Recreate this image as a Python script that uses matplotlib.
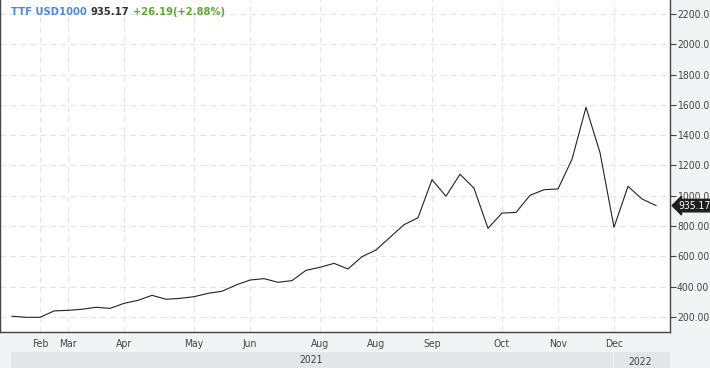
import numpy as np
import matplotlib
matplotlib.use("Agg")
from matplotlib import pyplot as plt
from matplotlib.patches import Rectangle
import matplotlib.transforms as mtransforms

# weekly closes
prices = [205, 198, 198, 240, 244, 251, 264, 257, 290, 310,
          343, 317, 323, 334, 356, 370, 411, 444, 453, 429,
          440, 508, 528, 554, 517, 598, 642, 726, 809, 855,
          1106, 997, 1142, 1050, 785, 886, 890, 1003, 1040, 1045,
          1241, 1584, 1285, 792, 1062, 979, 935.17]
month_idx = [2, 4, 8, 13, 17, 22, 26, 30, 35, 39, 43]
month_labels = ["Feb", "Mar", "Apr", "May", "Jun", "Aug", "Aug", "Sep", "Oct", "Nov", "Dec"]
y_ticks = [200, 400, 600, 800, 1000, 1200, 1400, 1600, 1800, 2000, 2200]
last_price = 935.17
change = 26.19
change_pct = 2.88

W, H = 710, 368
fig = plt.figure(figsize=(W / 100, H / 100), dpi=100, facecolor="#f2f3f5")
ax = fig.add_axes([0, 36 / H, 670 / W, 332 / H])
ax.set_facecolor("white")

x = np.arange(len(prices))
ax.plot(x, prices, color="#222222", lw=0.8)

ax.set_xlim(-12 / 14, 658 / 14)
ax.set_ylim(101, 2292)

ax.set_xticks(month_idx)
ax.set_xticklabels(month_labels, fontstretch="condensed")
ax.set_yticks(y_ticks)
ax.set_yticklabels([f"{v:.2f}" for v in y_ticks], fontstretch="condensed")
ax.yaxis.tick_right()
ax.tick_params(axis="y", length=4, width=0.8, color="#444444", pad=1,
               labelsize=7.5, labelcolor="#444444")
ax.tick_params(axis="x", length=0, pad=5, labelsize=7.5, labelcolor="#444444")

ax.grid(True, color="#e4e4e4", ls=(0, (5, 4)), lw=0.8)
ax.set_axisbelow(True)
for side in ["left", "right", "bottom"]:
    ax.spines[side].set_color("#444444")
    ax.spines[side].set_linewidth(1.0)
ax.spines["top"].set_visible(False)

# last price marker on the right axis
trans = mtransforms.blended_transform_factory(ax.transAxes, ax.transData)
ax.text(1.013, last_price, f"{last_price:.2f}", transform=trans, color="white",
        fontsize=7.5, fontstretch="condensed", va="center", ha="left", clip_on=False,
        bbox=dict(boxstyle="larrow,pad=0.12", fc="#1e1e1e", ec="#1e1e1e"))

# year band at the bottom
fig.patches.append(Rectangle((11 / W, 0), (613 - 11) / W, 16 / H, transform=fig.transFigure,
                             fc="#e4e5e7", ec="none", zorder=0))
fig.patches.append(Rectangle((614 / W, 0), (670 - 614) / W, 16 / H, transform=fig.transFigure,
                             fc="#e4e5e7", ec="none", zorder=0))
fig.text(311 / W, 8 / H, "2021", fontsize=7.5, fontstretch="condensed", color="#444444",
         ha="center", va="center")
fig.text(640 / W, 6 / H, "2022", fontsize=7.5, fontstretch="condensed", color="#444444",
         ha="center", va="center")

# header, pieces chained one after another
ty = 1 - 12 / H
pieces = [("TTF USD1000", "#4a86e8"),
          (f"{last_price:.2f}", "#333333"),
          (f"+{change:.2f}(+{change_pct:.2f}%)", "#5aab2c")]
renderer = fig.canvas.get_renderer()
px = 11
for s, c in pieces:
    t = fig.text(px / W, ty, s, fontsize=7.2, fontweight="bold", color=c, va="center")
    px += t.get_window_extent(renderer).width + 4

fig.savefig("out.png", dpi=100, facecolor=fig.get_facecolor())
